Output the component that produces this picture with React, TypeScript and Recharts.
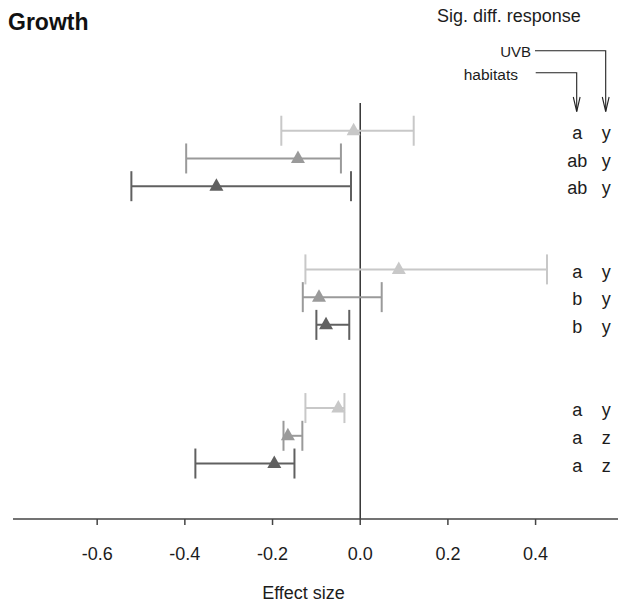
import React from "react";
import {
  ScatterChart,
  Scatter,
  XAxis,
  YAxis,
  ErrorBar,
  ReferenceLine,
  Label,
} from "recharts";

// habitat groups, each holding three rows (light, mid, dark)
const habitats = ["Dune", "Forest", "Bog/Fen"];
const groupStart = [0, 5, 10];

const lightMean = [-0.015, 0.088, -0.05];
const lightLow = [-0.18, -0.125, -0.125];
const lightHigh = [0.122, 0.426, -0.036];

const midMean = [-0.142, -0.094, -0.165];
const midLow = [-0.397, -0.131, -0.175];
const midHigh = [-0.044, 0.049, -0.132];

const darkMean = [-0.328, -0.078, -0.196];
const darkLow = [-0.522, -0.1, -0.376];
const darkHigh = [-0.021, -0.025, -0.15];

// significance letters, row order: Dune light/mid/dark, Forest ..., Bog/Fen ...
const habitatLetters = ["a", "ab", "ab", "a", "b", "b", "a", "a", "a"];
const uvbLetters = ["y", "y", "y", "y", "y", "y", "y", "z", "z"];

const xTicks = [-0.6, -0.4, -0.2, 0, 0.2, 0.4];
const xDomain = [-0.792, 0.588];
const habitatLetterX = 0.495;
const uvbLetterX = 0.561;

const LIGHT = "#c8c8c8";
const MID = "#9a9a9a";
const DARK = "#606060";
const TEXT = "#1c1c1c";
const FONT = "'Liberation Sans', Arial, Helvetica, sans-serif";

const toRows = (mean: number[], low: number[], high: number[], offset: number) =>
  mean.map((m, i) => ({
    x: m,
    y: groupStart[i] + offset,
    err: [m - low[i], high[i] - m],
  }));

const lightData = toRows(lightMean, lightLow, lightHigh, 0);
const midData = toRows(midMean, midLow, midHigh, 1);
const darkData = toRows(darkMean, darkLow, darkHigh, 2);

const letterRows = groupStart.flatMap((g) => [g, g + 1, g + 2]);
const habitatLetterData = letterRows.map((y, i) => ({ x: habitatLetterX, y, label: habitatLetters[i] }));
const uvbLetterData = letterRows.map((y, i) => ({ x: uvbLetterX, y, label: uvbLetters[i] }));

const groupCenters = groupStart.map((g) => g + 1);

function Triangle(props: any) {
  const { cx, cy, fill } = props;
  if (cx == null || cy == null) return null;
  return (
    <polygon
      points={`${cx},${cy - 8} ${cx - 7},${cy + 4.5} ${cx + 7},${cy + 4.5}`}
      fill={fill}
    />
  );
}

function LetterShape(props: any) {
  const { cx, cy, payload } = props;
  return (
    <text x={cx} y={cy} dy="0.45em" textAnchor="middle" fontSize={18} fill={TEXT}>
      {payload.label}
    </text>
  );
}

function GroupTick(props: any) {
  const { x, y, payload } = props;
  const idx = groupCenters.indexOf(payload.value);
  return (
    <text x={x - 2} y={y} dy="0.46em" textAnchor="start" fontSize={18} fill={TEXT}>
      {habitats[idx]}
    </text>
  );
}

function Header() {
  return (
    <svg
      width={619}
      height={120}
      style={{ position: "absolute", left: 0, top: 0, pointerEvents: "none" }}
    >
      <text x={8} y={29.5} fontSize={23} fontWeight="bold" fill="#111">
        Growth
      </text>
      <text x={437} y={21.5} fontSize={18} fill={TEXT}>
        Sig. diff. response
      </text>
      <text x={531} y={57} fontSize={15} fill={TEXT} textAnchor="end">
        UVB
      </text>
      <text x={518} y={79.5} fontSize={15.5} fill={TEXT} textAnchor="end">
        habitats
      </text>
      <polyline points="535,50.7 605.7,50.7 605.7,111.5" fill="none" stroke="#222" strokeWidth={1.1} />
      <polyline points="535.7,72.7 576.7,72.7 576.7,111.5" fill="none" stroke="#222" strokeWidth={1.1} />
      <polyline points="602.3,97 605.7,111.5 609.1,97" fill="none" stroke="#222" strokeWidth={1.1} />
      <polyline points="573.3,97 576.7,111.5 580.1,97" fill="none" stroke="#222" strokeWidth={1.1} />
    </svg>
  );
}

export default function App() {
  return (
    <div style={{ position: "absolute", left: 0, top: 0, width: 619, height: 606, fontFamily: FONT, background: "#fff" }}>
      <ScatterChart width={619} height={606} margin={{ top: 103, right: 1, bottom: 0, left: 13 }}>
        <XAxis
          type="number"
          dataKey="x"
          domain={xDomain}
          allowDataOverflow
          ticks={xTicks}
          tickFormatter={(v: number) => v.toFixed(1)}
          height={87}
          tickSize={6}
          tickMargin={22}
          stroke="#444"
          strokeWidth={1.5}
          tick={{ fill: TEXT, fontSize: 18 }}
        >
          <Label value="Effect size" position="insideBottom" offset={7} dx={-12} fill={TEXT} fontSize={18} />
        </XAxis>
        <YAxis
          type="number"
          dataKey="y"
          domain={[-1, 14]}
          reversed
          allowDataOverflow
          ticks={groupCenters}
          tick={<GroupTick />}
          axisLine={false}
          tickLine={false}
          tickSize={0}
          tickMargin={0}
          width={0}
        />
        <ReferenceLine x={0} stroke="#333" strokeWidth={1.5} />
        <Scatter data={lightData} fill={LIGHT} shape={<Triangle />} isAnimationActive={false}>
          <ErrorBar dataKey="err" direction="x" width={15} stroke={LIGHT} strokeWidth={2} />
        </Scatter>
        <Scatter data={midData} fill={MID} shape={<Triangle />} isAnimationActive={false}>
          <ErrorBar dataKey="err" direction="x" width={15} stroke={MID} strokeWidth={2} />
        </Scatter>
        <Scatter data={darkData} fill={DARK} shape={<Triangle />} isAnimationActive={false}>
          <ErrorBar dataKey="err" direction="x" width={15} stroke={DARK} strokeWidth={2} />
        </Scatter>
        <Scatter data={habitatLetterData} shape={<LetterShape />} isAnimationActive={false} />
        <Scatter data={uvbLetterData} shape={<LetterShape />} isAnimationActive={false} />
      </ScatterChart>
      <Header />
    </div>
  );
}
